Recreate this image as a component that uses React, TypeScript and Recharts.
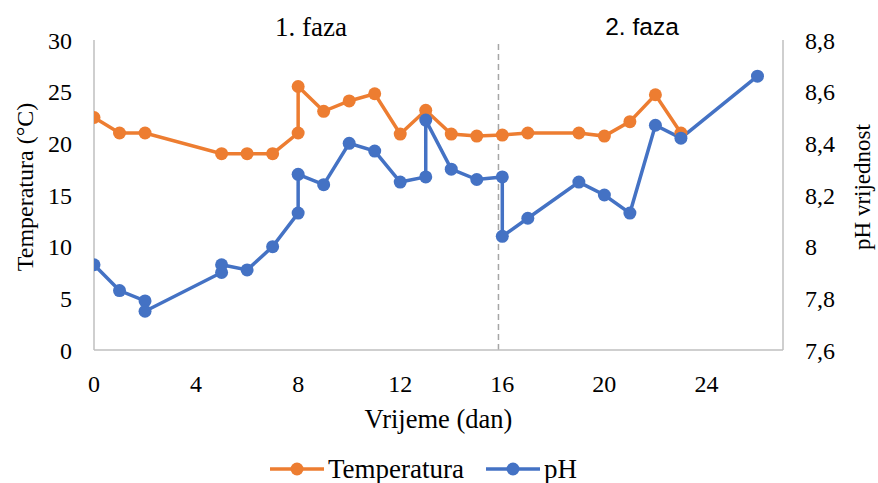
import { LineChart, Line, XAxis, YAxis, ReferenceLine, Legend } from 'recharts';

const tempDays = [0, 1, 2, 5, 6, 7, 8, 8, 9, 10, 11, 12, 13, 14, 15, 16, 17, 19, 20, 21, 22, 23];
const tempValues = [22.5, 21, 21, 19, 19, 19, 21, 25.5, 23.1, 24.1, 24.8, 20.9, 23.2, 20.9, 20.7, 20.8, 21, 21, 20.7, 22.1, 24.7, 21];

const phDays = [0, 1, 2, 2, 5, 5, 6, 7, 8, 8, 9, 10, 11, 12, 13, 13, 14, 15, 16, 16, 17, 19, 20, 21, 22, 23, 26];
const phValues = [7.93, 7.83, 7.79, 7.75, 7.9, 7.93, 7.91, 8.0, 8.13, 8.28, 8.24, 8.4, 8.37, 8.25, 8.27, 8.49, 8.3, 8.26, 8.27, 8.04, 8.11, 8.25, 8.2, 8.13, 8.47, 8.42, 8.66];

const xTicks = [0, 4, 8, 12, 16, 20, 24];
const tempTicks = [0, 5, 10, 15, 20, 25, 30];
const phTicks = [7.6, 7.8, 8, 8.2, 8.4, 8.6, 8.8];
const phaseSplit = 15.85;

const tempData = tempDays.map((x, i) => ({ x, v: tempValues[i] }));
const phData = phDays.map((x, i) => ({ x, v: phValues[i] }));

const ORANGE = '#ED7D31';
const BLUE = '#4472C4';
const AXIS = '#BFBFBF';
const SERIF = 'Liberation Serif, DejaVu Serif, serif';

const tickStyle = { fill: '#000', fontSize: 24, fontFamily: SERIF };

const YTitle = ({ viewBox, value, side }: any) => {
  const { x, y, width, height } = viewBox;
  const cx = side === 'left' ? x + 25 : x + width - 16;
  const cy = y + height / 2 - 8;
  return (
    <text
      x={cx}
      y={cy}
      transform={`rotate(-90 ${cx} ${cy})`}
      textAnchor="middle"
      dominantBaseline="central"
      fill="#000"
      fontSize={side === 'left' ? 24 : 23}
      style={{ fontFamily: SERIF }}
    >
      {value}
    </text>
  );
};

const LegendItem = ({ color, label }: { color: string; label: string }) => (
  <div style={{ display: 'flex', alignItems: 'center' }}>
    <svg width={54} height={16} style={{ marginRight: 4 }}>
      <line x1={0} y1={8} x2={54} y2={8} stroke={color} strokeWidth={3.5} />
      <circle cx={27} cy={8} r={6.5} fill={color} />
    </svg>
    <span>{label}</span>
  </div>
);

const ChartLegend = () => (
  <div
    style={{
      display: 'flex',
      justifyContent: 'center',
      gap: 22,
      paddingTop: 30,
      marginLeft: -31,
      fontFamily: SERIF,
      fontSize: 27,
      lineHeight: '28px',
      color: '#000',
    }}
  >
    <LegendItem color={ORANGE} label="Temperatura" />
    <LegendItem color={BLUE} label="pH" />
  </div>
);

const fmtPh = (v: number) => Number(v.toFixed(1)).toString().replace('.', ',');

export default function App() {
  return (
    <div style={{ position: 'absolute', left: 0, top: 0, width: 878, height: 483, background: '#fff', fontFamily: SERIF }}>
      <LineChart width={878} height={483} margin={{ top: 40, right: 0, bottom: 0, left: 0 }} style={{ fontFamily: SERIF }}>
        <XAxis
          dataKey="x"
          type="number"
          domain={[0, 27]}
          ticks={xTicks}
          allowDataOverflow
          height={75}
          tickSize={0}
          tickMargin={25}
          stroke={AXIS}
          strokeWidth={1.5}
          tick={tickStyle}
          label={{ value: 'Vrijeme (dan)', position: 'insideBottom', offset: -3, fill: '#000', fontSize: 26.5, fontFamily: SERIF }}
        />
        <YAxis
          yAxisId="temp"
          domain={[0, 30]}
          ticks={tempTicks}
          width={94}
          tickSize={0}
          tickMargin={22}
          stroke={AXIS}
          strokeWidth={1.5}
          tick={tickStyle}
          label={<YTitle value="Temperatura (°C)" side="left" />}
        />
        <YAxis
          yAxisId="ph"
          orientation="right"
          domain={[7.6, 8.8]}
          ticks={phTicks}
          width={95}
          tickSize={0}
          tickMargin={22}
          stroke={AXIS}
          strokeWidth={1.5}
          tick={tickStyle}
          tickFormatter={fmtPh}
          label={<YTitle value="pH vrijednost" side="right" />}
        />
        <ReferenceLine yAxisId="temp" x={phaseSplit} stroke="#A6A6A6" strokeWidth={1.5} strokeDasharray="6 4" />
        <Legend verticalAlign="bottom" height={58} content={<ChartLegend />} />
        <Line
          yAxisId="temp"
          data={tempData}
          dataKey="v"
          name="Temperatura"
          stroke={ORANGE}
          strokeWidth={3.5}
          dot={{ r: 6.5, fill: ORANGE, stroke: ORANGE, strokeWidth: 0 }}
          activeDot={false}
          isAnimationActive={false}
        />
        <Line
          yAxisId="ph"
          data={phData}
          dataKey="v"
          name="pH"
          stroke={BLUE}
          strokeWidth={3.5}
          dot={{ r: 6.5, fill: BLUE, stroke: BLUE, strokeWidth: 0 }}
          activeDot={false}
          isAnimationActive={false}
        />
      </LineChart>
      <div style={{ position: 'absolute', left: 251, top: 10, width: 120, textAlign: 'center', fontFamily: SERIF, fontSize: 27, lineHeight: '34px' }}>
        1. faza
      </div>
      <div style={{ position: 'absolute', left: 582, top: 10, width: 120, textAlign: 'center', fontFamily: 'Liberation Sans, Arial, sans-serif', fontSize: 24.5, lineHeight: '34px' }}>
        2. faza
      </div>
    </div>
  );
}
